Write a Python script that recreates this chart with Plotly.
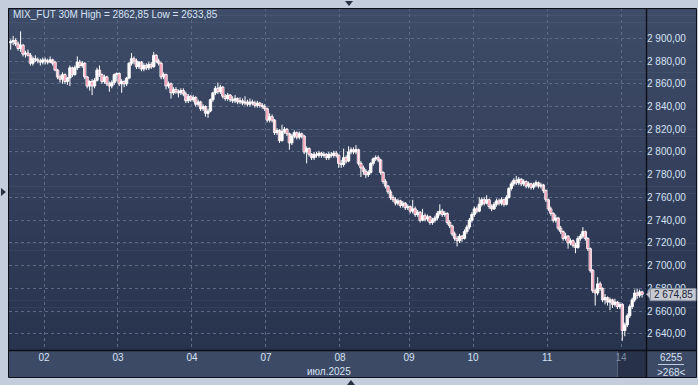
import plotly.graph_objects as go

W, H = 698, 385

# ---------------- data ----------------
day_labels = ["02", "03", "04", "07", "08", "09", "10", "11", "14"]
day_start = [14, 44, 74, 104, 134, 162, 188, 218, 248]
y_ticks = [2640, 2660, 2680, 2700, 2720, 2740, 2760, 2780, 2800, 2820, 2840, 2860, 2880, 2900]
last_price = 2674.85
title_text = "MIX_FUT 30M High = 2862,85 Low = 2633,85"
month_text = "июл.2025"
count_top = "6255"
count_bottom = ">268<"

opens = [
    2896, 2897, 2898, 2895, 2891, 2894, 2886, 2887, 2885, 2878, 2882, 2881, 2880, 2879,
    2881, 2880, 2879, 2881, 2879, 2872, 2866, 2864, 2868, 2862, 2865, 2874, 2868, 2874, 2879, 2876, 2878, 2866, 2858, 2862, 2858, 2863, 2872, 2868, 2862, 2866, 2860, 2858, 2861, 2868,
    2869, 2860, 2862, 2860, 2865, 2878, 2882, 2880, 2875, 2879, 2873, 2876, 2874, 2877, 2875, 2885, 2880, 2878, 2866, 2868, 2858, 2860, 2852, 2855, 2853, 2852, 2854, 2851, 2845, 2849,
    2846, 2848, 2842, 2844, 2838, 2840, 2834, 2836, 2846, 2852, 2856, 2853, 2857, 2849, 2847, 2850, 2846, 2845, 2847, 2844, 2845, 2843, 2844, 2842, 2844, 2843, 2841, 2843, 2841, 2840,
    2838, 2828, 2831, 2828, 2817, 2819, 2810, 2818, 2820, 2816, 2808, 2814, 2817, 2813, 2816, 2814, 2800, 2803, 2798, 2795, 2798, 2797, 2799, 2797, 2798, 2795, 2798, 2797, 2799, 2797,
    2790, 2789, 2795, 2792, 2800, 2802, 2800, 2802, 2790, 2786, 2783, 2780, 2782, 2790, 2794, 2795, 2793, 2782, 2774, 2770, 2765, 2760, 2758, 2755, 2757, 2753, 2755, 2751,
    2752, 2748, 2750, 2745, 2747, 2740, 2744, 2741, 2743, 2738, 2740, 2742, 2746, 2748, 2745, 2746, 2738, 2735, 2728, 2724, 2722, 2726, 2724, 2730, 2734, 2740,
    2745, 2750, 2748, 2754, 2758, 2755, 2758, 2752, 2750, 2754, 2757, 2755, 2758, 2754, 2760, 2768, 2772, 2775, 2773, 2776, 2772, 2774, 2770, 2772, 2769, 2771, 2773, 2770, 2771, 2766,
    2758, 2750, 2746, 2740, 2742, 2733, 2730, 2724, 2726, 2720, 2722, 2718, 2716, 2724, 2726, 2730, 2724, 2715, 2696, 2678, 2676, 2684, 2680, 2670, 2672, 2668, 2670, 2666, 2668, 2664,
    2666, 2643, 2648, 2656, 2664, 2670, 2676, 2674, 2677,
]
highs = [
    2899, 2902, 2900, 2897, 2906, 2895, 2889, 2890, 2887, 2884, 2885, 2883, 2882, 2883,
    2883, 2882, 2884, 2882, 2880, 2873, 2868, 2870, 2869, 2866, 2876, 2875, 2876, 2884, 2881, 2880, 2879, 2867, 2863, 2864, 2865, 2874, 2876, 2869, 2868, 2867, 2862, 2863, 2869, 2870,
    2870, 2864, 2863, 2866, 2879, 2887, 2884, 2882, 2880, 2880, 2878, 2878, 2879, 2879, 2888, 2886, 2882, 2879, 2870, 2869, 2862, 2861, 2857, 2857, 2855, 2856, 2856, 2853, 2851, 2850,
    2850, 2849, 2846, 2845, 2842, 2841, 2838, 2847, 2853, 2858, 2861, 2859, 2858, 2851, 2852, 2851, 2849, 2850, 2848, 2848, 2847, 2849, 2846, 2847, 2846, 2845, 2845, 2844, 2843, 2842,
    2839, 2834, 2833, 2829, 2821, 2820, 2824, 2822, 2821, 2817, 2816, 2819, 2818, 2818, 2817, 2815, 2805, 2804, 2799, 2800, 2800, 2801, 2800, 2800, 2799, 2800, 2800, 2801, 2801, 2798,
    2793, 2803, 2797, 2805, 2804, 2804, 2806, 2803, 2792, 2788, 2785, 2784, 2791, 2795, 2797, 2797, 2794, 2783, 2776, 2771, 2767, 2762, 2760, 2759, 2758, 2757, 2756, 2754,
    2753, 2758, 2752, 2749, 2748, 2750, 2746, 2745, 2744, 2742, 2744, 2748, 2754, 2750, 2748, 2747, 2740, 2736, 2730, 2726, 2728, 2727, 2732, 2736, 2742, 2747,
    2752, 2752, 2760, 2760, 2760, 2762, 2759, 2754, 2756, 2759, 2759, 2760, 2759, 2762, 2769, 2774, 2777, 2779, 2778, 2777, 2776, 2775, 2774, 2773, 2773, 2775, 2774, 2773, 2772, 2767,
    2759, 2752, 2747, 2745, 2743, 2735, 2731, 2729, 2727, 2724, 2723, 2720, 2726, 2728, 2734, 2731, 2725, 2716, 2697, 2680, 2690, 2686, 2681, 2675, 2673, 2672, 2671, 2671, 2669, 2668,
    2667, 2650, 2658, 2666, 2672, 2679, 2680, 2679, 2678,
]
lows = [
    2890, 2894, 2893, 2889, 2888, 2884, 2883, 2884, 2876, 2876, 2879, 2878, 2876, 2877,
    2877, 2877, 2878, 2876, 2871, 2864, 2861, 2860, 2860, 2859, 2858, 2866, 2867, 2872, 2874, 2874, 2864, 2856, 2854, 2850, 2856, 2862, 2866, 2860, 2860, 2858, 2853, 2856, 2859, 2862,
    2858, 2852, 2857, 2858, 2864, 2876, 2877, 2873, 2873, 2871, 2871, 2872, 2872, 2873, 2874, 2878, 2876, 2864, 2864, 2855, 2856, 2847, 2850, 2851, 2848, 2850, 2849, 2843, 2843, 2844,
    2844, 2840, 2840, 2836, 2836, 2831, 2830, 2835, 2844, 2850, 2851, 2851, 2847, 2845, 2845, 2844, 2843, 2843, 2842, 2842, 2841, 2841, 2840, 2840, 2841, 2839, 2839, 2839, 2838, 2836,
    2826, 2826, 2826, 2815, 2815, 2808, 2809, 2816, 2814, 2802, 2806, 2812, 2811, 2811, 2812, 2798, 2790, 2796, 2793, 2793, 2795, 2795, 2795, 2795, 2793, 2793, 2795, 2795, 2795, 2786,
    2786, 2787, 2790, 2791, 2798, 2798, 2798, 2788, 2778, 2780, 2777, 2778, 2781, 2788, 2792, 2791, 2780, 2772, 2768, 2763, 2758, 2756, 2753, 2753, 2751, 2751, 2749, 2749,
    2746, 2746, 2743, 2743, 2738, 2739, 2739, 2739, 2736, 2736, 2738, 2740, 2744, 2743, 2743, 2736, 2733, 2726, 2722, 2717, 2720, 2721, 2723, 2728, 2732, 2738,
    2743, 2746, 2747, 2752, 2753, 2754, 2750, 2748, 2749, 2752, 2753, 2753, 2752, 2753, 2759, 2766, 2770, 2771, 2771, 2770, 2770, 2768, 2768, 2767, 2767, 2769, 2768, 2768, 2764, 2756,
    2748, 2744, 2738, 2738, 2731, 2728, 2722, 2722, 2715, 2718, 2716, 2711, 2715, 2722, 2724, 2722, 2713, 2694, 2676, 2665, 2674, 2678, 2668, 2666, 2665, 2661, 2663, 2664, 2662, 2662,
    2634, 2638, 2646, 2654, 2662, 2668, 2671, 2672, 2672,
]
closes = [
    2897, 2898, 2895, 2891, 2894, 2886, 2887, 2885, 2878, 2882, 2881, 2880, 2879, 2881,
    2880, 2879, 2881, 2878, 2872, 2866, 2864, 2868, 2862, 2865, 2874, 2868, 2874, 2879, 2876, 2878, 2866, 2858, 2862, 2858, 2863, 2872, 2868, 2862, 2866, 2860, 2858, 2861, 2868, 2869,
    2860, 2862, 2860, 2865, 2878, 2882, 2880, 2875, 2879, 2873, 2876, 2874, 2877, 2875, 2885, 2880, 2878, 2866, 2868, 2858, 2860, 2852, 2855, 2853, 2852, 2854, 2851, 2845, 2849, 2846,
    2848, 2842, 2844, 2838, 2840, 2834, 2836, 2846, 2852, 2856, 2853, 2857, 2849, 2847, 2850, 2846, 2845, 2847, 2844, 2845, 2843, 2844, 2842, 2844, 2843, 2841, 2843, 2841, 2840, 2838,
    2828, 2831, 2828, 2817, 2819, 2810, 2818, 2820, 2816, 2808, 2814, 2817, 2813, 2816, 2814, 2800, 2803, 2798, 2795, 2798, 2797, 2799, 2797, 2798, 2795, 2798, 2797, 2799, 2797, 2790,
    2789, 2795, 2792, 2800, 2802, 2800, 2802, 2790, 2786, 2783, 2780, 2782, 2790, 2794, 2795, 2793, 2782, 2774, 2770, 2765, 2760, 2758, 2755, 2757, 2753, 2755, 2751, 2752,
    2748, 2750, 2745, 2747, 2740, 2744, 2741, 2743, 2738, 2740, 2742, 2746, 2748, 2745, 2746, 2738, 2735, 2728, 2724, 2722, 2726, 2724, 2730, 2734, 2740, 2745,
    2750, 2748, 2754, 2758, 2755, 2758, 2752, 2750, 2754, 2757, 2755, 2758, 2754, 2760, 2768, 2772, 2775, 2773, 2776, 2772, 2774, 2770, 2772, 2769, 2771, 2773, 2770, 2771, 2766, 2758,
    2750, 2746, 2740, 2742, 2733, 2730, 2724, 2726, 2720, 2722, 2718, 2716, 2724, 2726, 2730, 2724, 2715, 2696, 2678, 2676, 2684, 2680, 2670, 2672, 2668, 2670, 2666, 2668, 2664, 2666,
    2643, 2648, 2656, 2664, 2670, 2676, 2674, 2677, 2674.85,
]
bar_index = list(range(len(closes)))

# ---------------- styling helpers ----------------
FONT = "Liberation Sans, Arial, sans-serif"
TXT = "#d6e2f3"
UP_FILL = "#ffffff"
DOWN_FILL = "#ec0440"


def px(xp):
    return xp / W


def py(yp):
    return 1 - yp / H


def mix(c1, c2, t):
    a = [int(c1[i:i + 2], 16) for i in (1, 3, 5)]
    b = [int(c2[i:i + 2], 16) for i in (1, 3, 5)]
    return "#" + "".join("%02x" % round(a[k] + (b[k] - a[k]) * t) for k in range(3))


shapes = []
# gradient panel (plot + right scale)
top_c, bot_c = "#3f4c68", "#28334e"
n_bands = 48
y0p, y1p = 8, 350
for k in range(n_bands):
    ya = y0p + (y1p - y0p) * k / n_bands
    yb = y0p + (y1p - y0p) * (k + 1) / n_bands + 0.6
    shapes.append(dict(type="rect", xref="paper", yref="paper", layer="below",
                       x0=px(8), x1=px(696), y0=py(ya), y1=py(yb),
                       fillcolor=mix(top_c, bot_c, (k + 0.5) / n_bands), line=dict(width=0)))
# bottom time-scale bar
shapes.append(dict(type="rect", xref="paper", yref="paper", layer="below",
                   x0=px(8), x1=px(696), y0=py(350), y1=py(377),
                   fillcolor="#3d4a66", line=dict(width=0)))
# current-day highlight in time scale
shapes.append(dict(type="rect", xref="paper", yref="paper", layer="below",
                   x0=px(617), x1=px(646), y0=py(351), y1=py(377),
                   fillcolor="#27314a", line=dict(width=0)))
shapes.append(dict(type="line", xref="paper", yref="paper", layer="below",
                   x0=px(617.5), x1=px(617.5), y0=py(351), y1=py(377),
                   line=dict(color="#56627a", width=1)))
# frame and separators
shapes.append(dict(type="rect", xref="paper", yref="paper",
                   x0=px(8.5), x1=px(696.5), y0=py(8.5), y1=py(377.5),
                   line=dict(color="#0c0f16", width=1)))
shapes.append(dict(type="line", xref="paper", yref="paper",
                   x0=px(646.5), x1=px(646.5), y0=py(8), y1=py(377),
                   line=dict(color="#0c0f16", width=1.4)))
shapes.append(dict(type="line", xref="paper", yref="paper",
                   x0=px(8), x1=px(696), y0=py(350.5), y1=py(350.5),
                   line=dict(color="#0c0f16", width=1.4)))
# counter divider line
shapes.append(dict(type="line", xref="paper", yref="paper",
                   x0=px(658), x1=px(684), y0=py(364.5), y1=py(364.5),
                   line=dict(color="#c0cce0", width=1)))
# splitter markers
tri = "#2a3142"
shapes.append(dict(type="path", xref="paper", yref="paper",
                   path=f"M {px(345)} {py(1)} L {px(353)} {py(1)} L {px(349)} {py(6)} Z",
                   fillcolor=tri, line=dict(width=0)))
shapes.append(dict(type="path", xref="paper", yref="paper",
                   path=f"M {px(1)} {py(188)} L {px(1)} {py(196)} L {px(6)} {py(192)} Z",
                   fillcolor=tri, line=dict(width=0)))
shapes.append(dict(type="path", xref="paper", yref="paper",
                   path=f"M {px(347)} {py(385)} L {px(355)} {py(385)} L {px(351)} {py(380)} Z",
                   fillcolor=tri, line=dict(width=0)))
# last price tag
shapes.append(dict(type="rect", xref="paper", yref="y",
                   x0=px(650), x1=px(696), y0=last_price - 5.6, y1=last_price + 5.0,
                   fillcolor="#c6cad2", line=dict(color="#8c94a3", width=1)))
shapes.append(dict(type="path", xref="paper", yref="y",
                   path=f"M {px(646.5)} {last_price} L {px(650.5)} {last_price + 4.4} "
                        f"L {px(650.5)} {last_price - 4.4} Z",
                   fillcolor="#c6cad2", line=dict(color="#8c94a3", width=1)))

annotations = [
    dict(xref="paper", yref="paper", x=px(11), y=py(14), xanchor="left", yanchor="middle",
         text=title_text, showarrow=False, font=dict(family=FONT, size=10, color=TXT)),
    dict(xref="paper", yref="paper", x=px(329), y=py(371), xanchor="center", yanchor="middle",
         text=month_text, showarrow=False, font=dict(family=FONT, size=10, color=TXT)),
    dict(xref="paper", yref="paper", x=px(671), y=py(357), xanchor="center", yanchor="middle",
         text=count_top, showarrow=False, font=dict(family=FONT, size=10, color=TXT)),
    dict(xref="paper", yref="paper", x=px(671), y=py(372), xanchor="center", yanchor="middle",
         text=count_bottom, showarrow=False, font=dict(family=FONT, size=10, color=TXT)),
    dict(xref="paper", yref="y", x=px(652), y=last_price, xanchor="left", yanchor="middle",
         text=f"{last_price:,.2f}".replace(",", " ").replace(".", ","), showarrow=False,
         font=dict(family=FONT, size=10, color="#1b2435")),
]

ticktext = [f"<span style='color:#7c89a0'>{d}</span>" if d == "14" else d for d in day_labels]

# wicks (high-low) as one broken line, bodies as bars built from the OHLC arrays
wick_x, wick_y = [], []
for i, hi, lo in zip(bar_index, highs, lows):
    wick_x += [i, i, None]
    wick_y += [lo, hi, None]
body_base = [min(o, c) for o, c in zip(opens, closes)]
body_len = [max(abs(c - o), 0.6) for o, c in zip(opens, closes)]
body_col = [UP_FILL if c >= o else DOWN_FILL for o, c in zip(opens, closes)]

fig = go.Figure()
fig.add_trace(go.Scatter(x=wick_x, y=wick_y, mode="lines", connectgaps=False,
                         line=dict(color="#ffffff", width=1), hoverinfo="skip"))
fig.add_trace(go.Bar(x=bar_index, y=body_len, base=body_base, width=0.95,
                     marker=dict(color=body_col, line=dict(color="#ffffff", width=0.9)),
                     hoverinfo="skip"))

GRID = "#5c6a86"
fig.update_layout(
    width=W, height=H, margin=dict(l=0, r=0, t=0, b=0),
    paper_bgcolor="#c3cddb", plot_bgcolor="rgba(0,0,0,0)",
    separators=", ",
    showlegend=False, hovermode=False,
    shapes=shapes, annotations=annotations,
    xaxis=dict(domain=[px(9), px(646)], range=[-0.69, 257.6],
               tickvals=[d - 0.5 for d in day_start], ticktext=ticktext,
               showgrid=True, gridcolor=GRID, gridwidth=1, griddash="3px,3px",
               zeroline=False, showline=False, ticks="",
               tickfont=dict(family=FONT, size=10, color=TXT), fixedrange=True),
    yaxis=dict(domain=[py(350), py(8)], range=[2625.9, 2926.6], side="right",
               tickvals=y_ticks, tickformat=",.2f",
               showgrid=True, gridcolor=GRID, gridwidth=1, griddash="3px,3px",
               zeroline=False, showline=False, ticks="",
               tickfont=dict(family=FONT, size=10, color=TXT), fixedrange=True),
)

fig.write_html("out.html", config=dict(displayModeBar=False, staticPlot=True))
